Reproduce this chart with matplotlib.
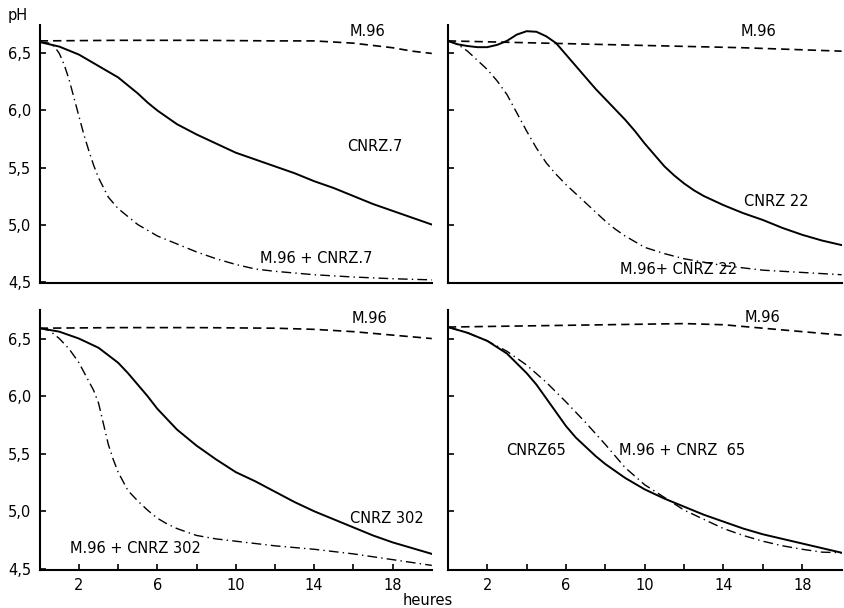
import matplotlib
matplotlib.use('Agg')
import matplotlib.pyplot as plt

# === Data (pH vs hours) ===
# panel A : CNRZ.7
h_m96_a = [0, 4, 8, 12, 14, 15, 16, 17, 18, 19, 20]
ph_m96_a = [6.61, 6.615, 6.615, 6.61, 6.61, 6.60, 6.59, 6.57, 6.55, 6.52, 6.50]
h_sol_a = [0, 1, 2, 3, 4, 4.5, 5, 5.5, 6, 6.5, 7, 8, 9, 10, 11, 12, 13, 14,
           15, 16, 17, 18, 19, 20]
ph_sol_a = [6.60, 6.56, 6.49, 6.39, 6.29, 6.22, 6.15, 6.07, 6.00, 5.94, 5.88,
            5.79, 5.71, 5.63, 5.57, 5.51, 5.45, 5.38, 5.32, 5.25, 5.18, 5.12,
            5.06, 5.00]
h_mix_a = [0, 0.5, 0.75, 1, 1.25, 1.5, 1.75, 2, 2.25, 2.5, 2.75, 3, 3.5, 4, 4.5,
           5, 6, 7, 8, 9, 10, 11, 12, 14, 16, 18, 20]
ph_mix_a = [6.60, 6.59, 6.56, 6.50, 6.40, 6.27, 6.11, 5.95, 5.79, 5.65, 5.52,
            5.41, 5.24, 5.14, 5.07, 5.00, 4.90, 4.83, 4.76, 4.70, 4.65, 4.61,
            4.59, 4.56, 4.54, 4.525, 4.515]

# panel B : CNRZ 22
h_m96_b = [0, 5, 10, 15, 20]
ph_m96_b = [6.61, 6.59, 6.57, 6.55, 6.52]
h_sol_b = [0, 0.5, 1, 1.5, 2, 2.5, 3, 3.5, 4, 4.5, 5, 5.5, 6, 6.5, 7, 7.5, 8,
           8.5, 9, 9.5, 10, 10.5, 11, 11.5, 12, 12.5, 13, 14, 15, 16, 17, 18,
           19, 20]
ph_sol_b = [6.61, 6.58, 6.565, 6.555, 6.555, 6.575, 6.61, 6.665, 6.695, 6.69,
            6.65, 6.59, 6.49, 6.39, 6.29, 6.19, 6.10, 6.01, 5.92, 5.82, 5.71,
            5.61, 5.51, 5.43, 5.36, 5.30, 5.25, 5.17, 5.10, 5.04, 4.97, 4.91,
            4.86, 4.82]
h_mix_b = [0, 0.5, 1, 1.5, 2, 2.5, 3, 3.5, 4, 4.5, 5, 5.5, 6, 6.5, 7, 7.5, 8,
           8.5, 9, 9.5, 10, 11, 12, 14, 16, 18, 20]
ph_mix_b = [6.61, 6.58, 6.52, 6.44, 6.36, 6.26, 6.14, 5.98, 5.82, 5.67, 5.54,
            5.44, 5.35, 5.27, 5.19, 5.11, 5.03, 4.96, 4.90, 4.85, 4.80, 4.745,
            4.70, 4.64, 4.60, 4.58, 4.56]

# panel C : CNRZ 302
h_m96_c = [0, 4, 8, 12, 14, 16, 18, 20]
ph_m96_c = [6.59, 6.595, 6.595, 6.59, 6.58, 6.56, 6.53, 6.50]
h_sol_c = [0, 1, 2, 3, 4, 4.5, 5, 5.5, 6, 6.5, 7, 8, 9, 10, 11, 12, 13, 14,
           15, 16, 17, 18, 19, 20]
ph_sol_c = [6.59, 6.56, 6.50, 6.42, 6.29, 6.20, 6.10, 6.00, 5.89, 5.80, 5.71,
            5.57, 5.45, 5.34, 5.26, 5.17, 5.08, 5.00, 4.93, 4.86, 4.79, 4.73,
            4.68, 4.63]
h_mix_c = [0, 0.5, 1, 1.5, 2, 2.5, 2.75, 3, 3.25, 3.5, 3.75, 4, 4.5, 5, 5.5, 6,
           6.5, 7, 8, 9, 10, 12, 14, 16, 18, 20]
ph_mix_c = [6.59, 6.57, 6.50, 6.41, 6.29, 6.13, 6.05, 5.94, 5.76, 5.58, 5.45,
            5.34, 5.18, 5.09, 5.01, 4.94, 4.89, 4.85, 4.79, 4.76, 4.74, 4.70,
            4.67, 4.63, 4.58, 4.53]

# panel D : CNRZ 65
h_m96_d = [0, 4, 8, 12, 14, 16, 18, 20]
ph_m96_d = [6.60, 6.61, 6.62, 6.63, 6.62, 6.59, 6.56, 6.53]
h_sol_d = [0, 1, 2, 3, 4, 4.5, 5, 5.5, 6, 6.5, 7, 7.5, 8, 9, 10, 11, 12, 13,
           14, 15, 16, 17, 18, 19, 20]
ph_sol_d = [6.60, 6.55, 6.48, 6.37, 6.20, 6.10, 5.98, 5.86, 5.74, 5.64, 5.56,
            5.48, 5.41, 5.29, 5.19, 5.11, 5.04, 4.97, 4.91, 4.85, 4.80, 4.76,
            4.72, 4.68, 4.64]
h_mix_d = [0, 1, 2, 3, 4, 5, 6, 7, 8, 9, 10, 11, 12, 13, 14, 15, 16, 17, 18, 19, 20]
ph_mix_d = [6.60, 6.55, 6.48, 6.39, 6.27, 6.12, 5.95, 5.77, 5.58, 5.38, 5.23,
            5.12, 5.01, 4.93, 4.85, 4.79, 4.74, 4.70, 4.67, 4.645, 4.64]

y_ticks = [4.5, 5.0, 5.5, 6.0, 6.5]
y_labels = ['4,5', '5,0', '5,5', '6,0', '6,5']
x_ticks = [2, 4, 6, 8, 10, 12, 14, 16, 18]
x_labels = ['2', '', '6', '', '10', '', '14', '', '18']

panels = [
    # data, labels (text, hour, pH), position
    ((h_m96_a, ph_m96_a), (h_sol_a, ph_sol_a), (h_mix_a, ph_mix_a),
     [('M.96', 16.7, 6.69), ('CNRZ.7', 17.1, 5.68), ('M.96 + CNRZ.7', 14.1, 4.70)],
     [0.047, 0.535, 0.464, 0.424], True, False),
    ((h_m96_b, ph_m96_b), (h_sol_b, ph_sol_b), (h_mix_b, ph_mix_b),
     [('M.96', 15.8, 6.69), ('CNRZ 22', 16.7, 5.20), ('M.96+ CNRZ 22', 11.7, 4.61)],
     [0.530, 0.535, 0.466, 0.424], False, False),
    ((h_m96_c, ph_m96_c), (h_sol_c, ph_sol_c), (h_mix_c, ph_mix_c),
     [('M.96', 16.8, 6.67), ('CNRZ 302', 17.7, 4.94), ('M.96 + CNRZ 302', 4.9, 4.68)],
     [0.047, 0.0625, 0.464, 0.428], True, True),
    ((h_m96_d, ph_m96_d), (h_sol_d, ph_sol_d), (h_mix_d, ph_mix_d),
     [('M.96', 16.0, 6.68), ('CNRZ65', 4.5, 5.53), ('M.96 + CNRZ  65', 11.9, 5.53)],
     [0.530, 0.0625, 0.466, 0.428], False, True),
]

plt.rcParams['font.family'] = 'DejaVu Sans'

fig = plt.figure(figsize=(8.45, 6.08), dpi=100)

for m96, sol, mix, labels, pos, left_labels, bottom_labels in panels:
    ax = fig.add_axes(pos)
    ax.plot(m96[0], m96[1], color='black', lw=1.2, linestyle=(0, (5, 3)))
    ax.plot(sol[0], sol[1], color='black', lw=1.4, linestyle='-',
            solid_joinstyle='round')
    ax.plot(mix[0], mix[1], color='black', lw=1.0, linestyle=(0, (7, 3, 1, 3)))
    for txt, hx, py in labels:
        ax.text(hx, py, txt, fontsize=10.5, ha='center', va='center')

    ax.set_xlim(0, 20)
    ax.set_ylim(4.49, 6.75)
    for s in ['top', 'right']:
        ax.spines[s].set_visible(False)
    ax.spines['left'].set_linewidth(1.5)
    ax.spines['bottom'].set_linewidth(1.5)

    ax.set_yticks(y_ticks[1:])
    if left_labels:
        ax.set_yticks(y_ticks)
        ax.set_yticklabels(y_labels)
    else:
        ax.set_yticklabels([])
    ax.tick_params(axis='y', direction='in', length=4, width=1.2, pad=6, labelsize=10.5)

    if bottom_labels:
        ax.set_xticks(x_ticks)
        ax.set_xticklabels(x_labels)
        ax.tick_params(axis='x', direction='in', length=4, width=1.2, pad=6, labelsize=10.5)
    else:
        ax.set_xticks([])

fig.text(0.021, 0.975, 'pH', fontsize=10.5, ha='center', va='center')
fig.text(0.506, 0.012, 'heures', fontsize=10.5, ha='center', va='center')

fig.savefig('out.png', dpi=100)
